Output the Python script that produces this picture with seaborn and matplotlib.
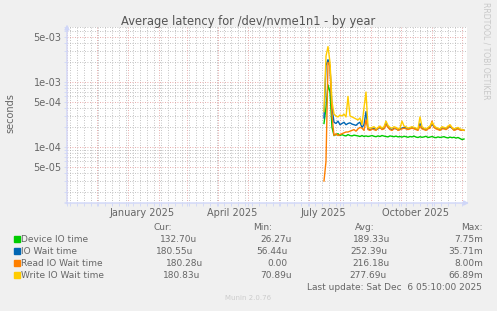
import matplotlib
matplotlib.use("Agg")
import matplotlib.pyplot as plt
import matplotlib.dates as mdates
import matplotlib.ticker as mticker
from matplotlib.patches import Rectangle
import pandas as pd
import seaborn as sns

# =============================================================================
# DATA (latencies in microseconds, one point every 2 days)
# =============================================================================
start_date = "2025-07-16"

device_io = [230, 400, 900, 700, 200, 150, 155, 160, 150, 155,
             150, 148, 155, 150, 148, 152, 150, 148, 145, 150,
             145, 148, 145, 147, 150, 146, 144, 148, 145, 150,
             147, 145, 143, 148, 146, 144, 147, 143, 145, 142,
             146, 144, 141, 145, 143, 147, 142, 140, 144, 141,
             143, 146, 140, 142, 145, 141, 139, 143, 140, 142,
             144, 140, 138, 142, 139, 141, 137, 140, 135, 130,
             132.7]

io_wait = [280, 1800, 2200, 1700, 400, 240, 230, 250, 220, 230,
           240, 220, 230, 235, 225, 220, 215, 230, 240, 200,
           220, 350, 190, 185, 190, 195, 185, 190, 200, 190,
           195, 230, 205, 190, 185, 195, 190, 185, 190, 195,
           200, 195, 190, 195, 200, 195, 190, 185, 230, 195,
           190, 185, 195, 200, 225, 205, 195, 190, 185, 195,
           195, 190, 200, 205, 195, 185, 190, 195, 185, 182,
           180.55]

read_wait = [30, 60, 2000, 1800, 300, 150, 160, 150, 155, 160,
             165, 170, 170, 175, 180, 185, 175, 190, 200, 195,
             180, 260, 185, 180, 190, 185, 180, 195, 200, 185,
             190, 220, 200, 185, 180, 190, 195, 180, 185, 190,
             195, 190, 185, 190, 195, 190, 185, 180, 210, 190,
             185, 180, 190, 195, 250, 200, 190, 185, 180, 190,
             190, 185, 195, 215, 195, 180, 185, 190, 182, 181,
             180.28]

write_wait = [350, 2500, 3500, 2000, 500, 320, 300, 290, 310, 300,
              320, 290, 600, 300, 290, 280, 270, 260, 280, 220,
              400, 700, 200, 195, 200, 205, 190, 200, 210, 195,
              205, 250, 215, 200, 195, 205, 200, 190, 195, 250,
              210, 205, 195, 200, 205, 200, 195, 190, 290, 205,
              195, 190, 200, 210, 240, 215, 200, 195, 190, 205,
              200, 195, 210, 220, 200, 190, 195, 200, 190, 185,
              180.83]

series_names = ["Device IO time", "IO Wait time", "Read IO Wait time", "Write IO Wait time"]
series_colors = ["#00CC00", "#0066B3", "#FF8000", "#FFCC00"]

cur_vals = ["132.70u", "180.55u", "180.28u", "180.83u"]
min_vals = ["26.27u", "56.44u", "0.00", "70.89u"]
avg_vals = ["189.33u", "252.39u", "216.18u", "277.69u"]
max_vals = ["7.75m", "35.71m", "8.00m", "66.89m"]

month_labels = ["January 2025", "April 2025", "July 2025", "October 2025"]
month_label_dates = ["2025-01-15", "2025-04-15", "2025-07-15", "2025-10-15"]

y_ticks = [5e-5, 1e-4, 5e-4, 1e-3, 5e-3]
y_tick_labels = ["5e-05", "1e-04", "5e-04", "1e-03", "5e-03"]

# =============================================================================
# BUILD LONG DATAFRAME
# =============================================================================
dates = pd.date_range(start_date, periods=len(device_io), freq="2D")
frames = []
for name, vals in zip(series_names, [device_io, io_wait, read_wait, write_wait]):
    frames.append(pd.DataFrame({"date": dates, "value": [v * 1e-6 for v in vals], "series": name}))
df = pd.concat(frames, ignore_index=True)

# =============================================================================
# FIGURE
# =============================================================================
W, H = 497, 311
TXT = "#666666"
AXC = "#CFD6F8"
plt.rcParams["font.family"] = ["DejaVu Sans"]

fig = plt.figure(figsize=(W / 100, H / 100), dpi=100, facecolor="#F0F0F0")
ax = fig.add_axes([67 / W, 1 - 203 / H, 400 / W, 176 / H])
ax.set_facecolor("white")

sns.lineplot(data=df, x="date", y="value", hue="series", hue_order=series_names,
             palette=series_colors, estimator=None, legend=False, linewidth=1.0, ax=ax)

ax.set_yscale("log")
ax.set_ylim(1.376e-5, 7.0e-3)
ax.set_xlim(pd.Timestamp("2024-11-01"), pd.Timestamp("2025-12-06"))

# grid: months red, weeks grey; 1/5 multiples red, others grey
ax.xaxis.set_major_locator(mdates.MonthLocator())
ax.xaxis.set_minor_locator(mdates.WeekdayLocator(byweekday=mdates.MO))
ax.xaxis.set_major_formatter(mticker.NullFormatter())
ax.yaxis.set_major_locator(mticker.FixedLocator([1e-5] + y_ticks))
ax.yaxis.set_major_formatter(mticker.FixedFormatter([""] + y_tick_labels))
ax.yaxis.set_minor_locator(mticker.LogLocator(subs=[2, 3, 4, 6, 7, 8, 9], numticks=20))
ax.yaxis.set_minor_formatter(mticker.NullFormatter())

ax.grid(which="minor", color="#B0B0B0", linestyle=(0, (1, 2)), linewidth=0.6)
ax.grid(which="major", color="#E09090", linestyle=(0, (1, 2)), linewidth=0.6)
ax.set_axisbelow(True)

ax.tick_params(which="both", length=2, width=0.6, color=AXC, labelsize=7, labelcolor=TXT, pad=2)
for s in ax.spines.values():
    s.set_visible(False)
ax.annotate("", xy=(1.012, 0), xytext=(-0.012, 0), xycoords="axes fraction",
            arrowprops=dict(arrowstyle="-|>", color=AXC, lw=1, mutation_scale=7))
ax.annotate("", xy=(0, 1.03), xytext=(0, -0.02), xycoords="axes fraction",
            arrowprops=dict(arrowstyle="-|>", color=AXC, lw=1, mutation_scale=7))
ax.set_xlabel("")
ax.set_ylabel("")

for lab, d in zip(month_labels, month_label_dates):
    ax.text(pd.Timestamp(d), -0.03, lab, transform=ax.get_xaxis_transform(),
            ha="center", va="top", fontsize=7, color=TXT)

# =============================================================================
# TEXTS AROUND THE PLOT
# =============================================================================
fig.text(248 / W, 1 - 21 / H, "Average latency for /dev/nvme1n1 - by year",
         ha="center", va="center", fontsize=8.3, color="#555555")
fig.text(10 / W, 1 - 113 / H, "seconds", rotation=90, ha="center", va="center",
         fontsize=7, color=TXT)
fig.text(486 / W, 1 - 51 / H, "RRDTOOL / TOBI OETIKER", rotation=270, ha="center",
         va="center", fontsize=5.5, color="#C8C8C8")

# legend table
row_y = [239, 251, 263, 275]
fig.text(153 / W, 1 - 227 / H, "Cur:", va="center", fontsize=6.5, color=TXT)
fig.text(253 / W, 1 - 227 / H, "Min:", va="center", fontsize=6.5, color=TXT)
fig.text(355 / W, 1 - 227 / H, "Avg:", va="center", fontsize=6.5, color=TXT)
fig.text(483 / W, 1 - 227 / H, "Max:", ha="right", va="center", fontsize=6.5, color=TXT)
cur_x = [197, 193, 203, 200]
min_x = [292, 288, 288, 292]
avg_x = [390, 387, 390, 387]
for i, y in enumerate(row_y):
    fig.patches.append(Rectangle((14 / W, 1 - (y + 3) / H), 6 / W, 6 / H,
                                 transform=fig.transFigure, color=series_colors[i]))
    fig.text(21 / W, 1 - y / H, series_names[i], va="center", fontsize=6.5, color=TXT)
    fig.text(cur_x[i] / W, 1 - y / H, cur_vals[i], ha="right", va="center", fontsize=6.5, color=TXT)
    fig.text(min_x[i] / W, 1 - y / H, min_vals[i], ha="right", va="center", fontsize=6.5, color=TXT)
    fig.text(avg_x[i] / W, 1 - y / H, avg_vals[i], ha="right", va="center", fontsize=6.5, color=TXT)
    fig.text(483 / W, 1 - y / H, max_vals[i], ha="right", va="center", fontsize=6.5, color=TXT)

fig.text(482 / W, 1 - 288 / H, "Last update: Sat Dec  6 05:10:00 2025", ha="right",
         va="center", fontsize=6.5, color=TXT)
fig.text(248 / W, 1 - 298 / H, "Munin 2.0.76", ha="center", va="center",
         fontsize=5, color="#CCCCCC")

fig.savefig("out.png", dpi=100, facecolor=fig.get_facecolor())
